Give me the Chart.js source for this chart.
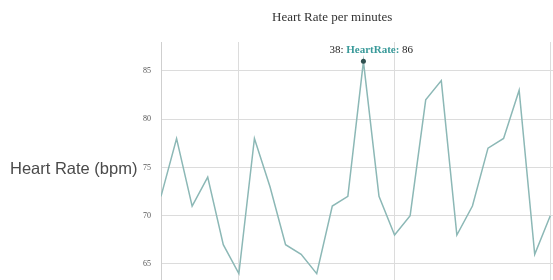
<!DOCTYPE html>
<html>
<head>
<meta charset="utf-8">
<script src="https://cdn.jsdelivr.net/npm/chart.js@4"></script>
<style>
    html, body { margin: 0; padding: 0; background: #fff; overflow: hidden; width: 553px; height: 280px; }
    #wrap { position: absolute; left: 0; top: 0; width: 706px; height: 327px; }
    #title { position: absolute; left: 272px; top: 9px; font: 13px "Liberation Serif", serif; color: #333; white-space: nowrap; }
    #yTitle { position: absolute; left: 10px; top: 159px; font: 16.5px "Liberation Sans", Arial, sans-serif; color: #4a4a4a; line-height: 18px; white-space: nowrap; }
</style>
</head>
<body>
<div id="wrap"><canvas id="hrChart"></canvas></div>
<div id="title">Heart Rate per minutes</div>
<div id="yTitle">Heart Rate (bpm)</div>
<script>
// minute index and measured heart rate
const minutes   = [25, 26, 27, 28, 29, 30, 31, 32, 33, 34, 35, 36, 37, 38, 39, 40, 41, 42, 43, 44, 45, 46, 47, 48, 49, 50];
const heartRate = [72, 78, 71, 74, 67, 64, 78, 73, 67, 66, 64, 71, 72, 86, 72, 68, 70, 82, 84, 68, 71, 77, 78, 83, 66, 70];
const yTicks    = [60, 65, 70, 75, 80, 85];

const lineColor = '#8cb8b6';

// draws the hovered-point label above the peak, like the reference
const peakLabel = {
    id: 'peakLabel',
    afterDatasetsDraw(chart) {
        const ds = chart.data.datasets[0];
        let best = 0;
        ds.data.forEach((p, i) => { if (p.y > ds.data[best].y) best = i; });
        const pt = chart.getDatasetMeta(0).data[best];
        const d = ds.data[best];
        const ctx = chart.ctx;
        ctx.save();
        ctx.beginPath();
        ctx.arc(pt.x, pt.y, 2.5, 0, Math.PI * 2);
        ctx.fillStyle = '#2f4f4f';
        ctx.fill();

        const parts = [
            { t: d.x + ': ', c: '#222', f: '11px "Liberation Serif", serif' },
            { t: 'HeartRate:', c: '#3a9a9a', f: 'bold 11px "Liberation Serif", serif' },
            { t: ' ' + d.y, c: '#222', f: '11px "Liberation Serif", serif' }
        ];
        let x = pt.x - 34;
        const y = pt.y - 8;
        ctx.textBaseline = 'alphabetic';
        parts.forEach(p => {
            ctx.font = p.f;
            ctx.fillStyle = p.c;
            ctx.fillText(p.t, x, y);
            x += ctx.measureText(p.t).width;
        });
        ctx.restore();
    }
};

new Chart(document.getElementById('hrChart').getContext('2d'), {
    type: 'line',
    data: {
        datasets: [{
            label: 'HeartRate',
            data: minutes.map((m, i) => ({ x: m, y: heartRate[i] })),
            borderColor: lineColor,
            backgroundColor: 'transparent',
            borderWidth: 1.5,
            pointRadius: 0,
            tension: 0,
            fill: false
        }]
    },
    options: {
        responsive: true,
        maintainAspectRatio: false,
        animation: false,
        layout: { padding: { top: 42, right: 0, bottom: 10, left: 0 } },
        plugins: {
            legend: { display: false },
            tooltip: { enabled: false }
        },
        scales: {
            x: {
                type: 'linear',
                min: 25,
                max: 60,
                ticks: { display: false, stepSize: 10 },
                grid: { color: '#dcdcdc', drawTicks: false },
                border: { display: false }
            },
            y: {
                min: 60,
                max: 88,
                afterBuildTicks: scale => {
                    scale.ticks = yTicks.map(v => ({ value: v }));
                },
                afterFit: scale => { scale.width = 161; },
                ticks: {
                    color: '#555',
                    padding: 10,
                    font: { family: '"Liberation Serif", serif', size: 8 }
                },
                grid: { color: '#dcdcdc', drawTicks: false },
                border: { display: true, color: '#cfcfcf' }
            }
        }
    },
    plugins: [peakLabel]
});
</script>
</body>
</html>
